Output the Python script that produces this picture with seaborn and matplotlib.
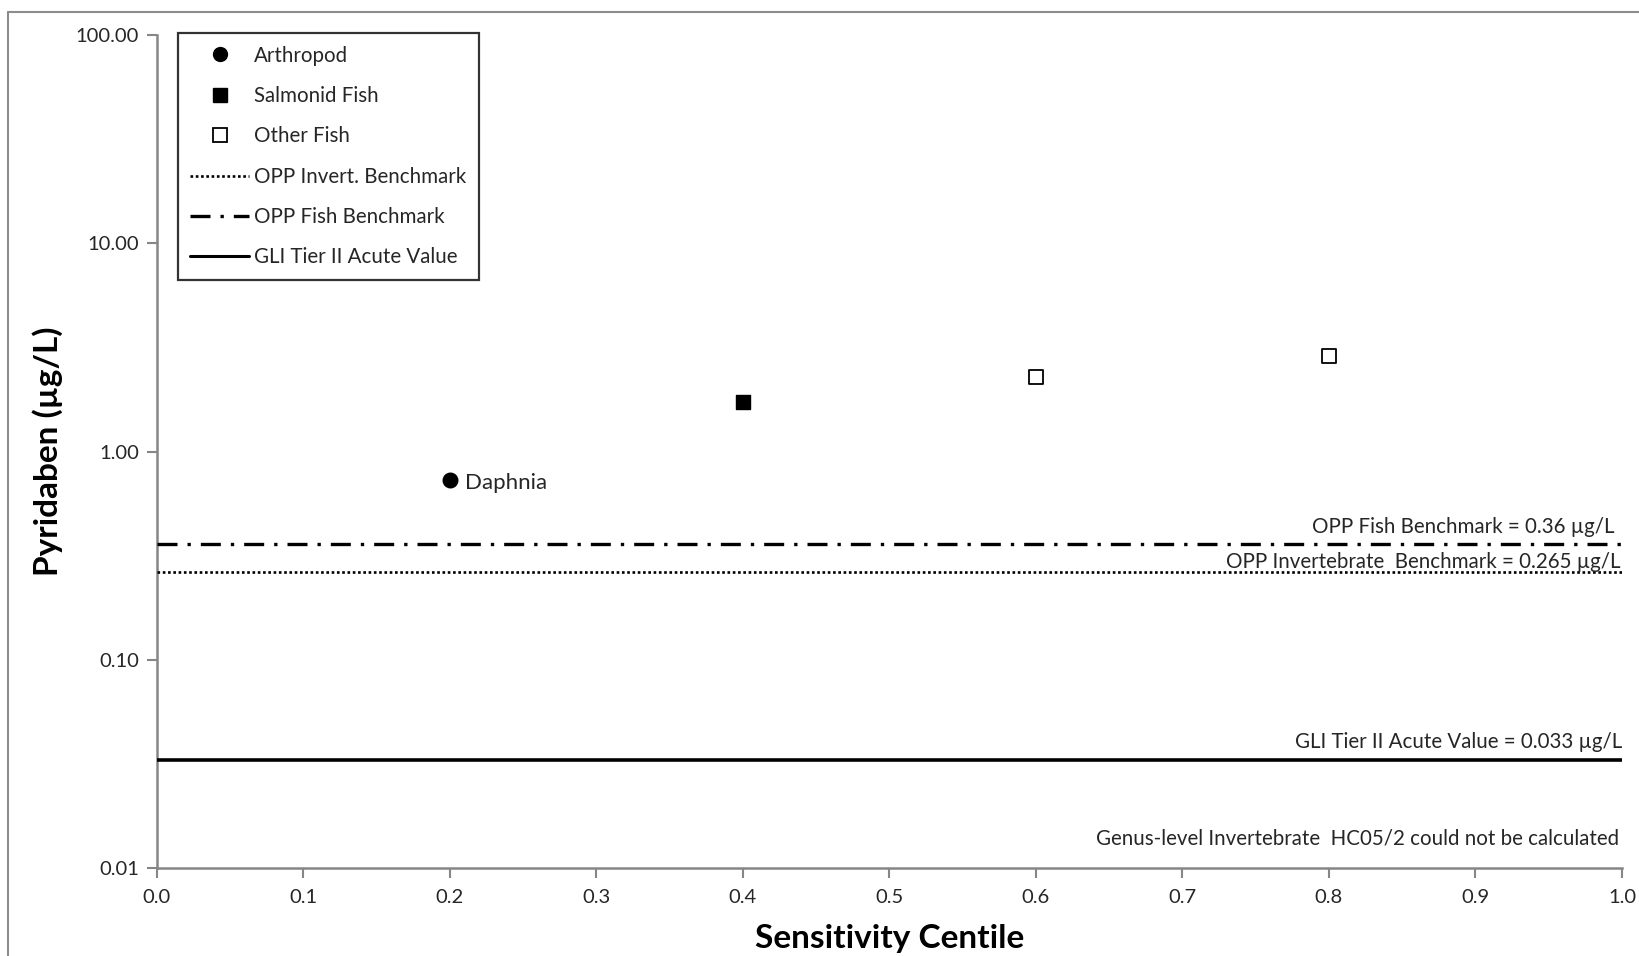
import numpy as np
import pandas as pd
import matplotlib
matplotlib.use("Agg")
import matplotlib.pyplot as plt
from matplotlib.lines import Line2D
import seaborn as sns

# Species sensitivity data (centile, concentration in µg/L)
arthropod_x = [0.2]
arthropod_y = [0.73]
arthropod_names = ["Daphnia"]
salmonid_x = [0.4]
salmonid_y = [1.73]
other_fish_x = [0.6, 0.8]
other_fish_y = [2.29, 2.89]

# Benchmark values (µg/L)
opp_invert = 0.265
opp_fish = 0.36
gli_tier2 = 0.033

x_ticks = [0.0, 0.1, 0.2, 0.3, 0.4, 0.5, 0.6, 0.7, 0.8, 0.9, 1.0]
y_ticks = [0.01, 0.1, 1.0, 10.0, 100.0]

sns.set_theme(style="white")
plt.rcParams["font.family"] = ["Lato", "DejaVu Sans"]

fig = plt.figure(figsize=(16.4, 9.56), dpi=100)
ax = fig.add_axes([0.0957, 0.092, 0.8933, 0.8714])

axis_gray = "#868686"
text_col = "#262626"
note_size = 14.8

df_a = pd.DataFrame({"x": arthropod_x, "y": arthropod_y})
df_s = pd.DataFrame({"x": salmonid_x, "y": salmonid_y})
df_o = pd.DataFrame({"x": other_fish_x, "y": other_fish_y})

sns.scatterplot(data=df_a, x="x", y="y", ax=ax, marker="o", s=110,
                color="black", edgecolor="black", linewidth=1, zorder=5)
sns.scatterplot(data=df_s, x="x", y="y", ax=ax, marker="s", s=110,
                color="black", edgecolor="black", linewidth=1, zorder=5)
sns.scatterplot(data=df_o, x="x", y="y", ax=ax, marker="s", s=110,
                color="white", edgecolor="black", linewidth=1.3, zorder=5)

for xv, yv, name in zip(arthropod_x, arthropod_y, arthropod_names):
    ax.annotate(name, (xv, yv), xytext=(11, -2), textcoords="offset points",
                ha="left", va="center", fontsize=16, color=text_col)

# Benchmark lines
ax.axhline(opp_invert, color="black", lw=1.9, ls=(0, (1, 1)), zorder=3)
ax.axhline(opp_fish, color="black", lw=2.4, ls=(0, (6, 3, 1, 3)), zorder=3)
ax.axhline(gli_tier2, color="black", lw=2.6, ls="-", zorder=3)

ax.annotate("OPP Fish Benchmark = 0.36 µg/L", (0.995, opp_fish),
            xytext=(0, 5), textcoords="offset points", ha="right", va="bottom",
            fontsize=note_size, color=text_col)
ax.annotate("OPP Invertebrate  Benchmark = 0.265 µg/L", (0.999, opp_invert),
            xytext=(0, 0), textcoords="offset points", ha="right", va="bottom",
            fontsize=note_size, color=text_col)
ax.annotate("GLI Tier II Acute Value = 0.033 µg/L", (1.0, gli_tier2),
            xytext=(0, 6), textcoords="offset points", ha="right", va="bottom",
            fontsize=note_size, color=text_col)
ax.text(0.998, 0.0139, "Genus-level Invertebrate  HC05/2 could not be calculated",
        ha="right", va="center", fontsize=note_size, color=text_col)

# Axes styling
ax.set_yscale("log")
ax.set_xlim(0, 1.0)
ax.set_ylim(0.01, 100)
ax.set_xticks(x_ticks)
ax.set_xticklabels([f"{v:.1f}" for v in x_ticks])
ax.set_yticks(y_ticks)
ax.set_yticklabels([f"{v:.2f}" for v in y_ticks])
ax.yaxis.set_minor_locator(matplotlib.ticker.NullLocator())
ax.tick_params(axis="both", which="major", direction="out", length=7,
               width=1.5, color=axis_gray, labelsize=14.5, labelcolor=text_col,
               left=True, bottom=True)
ax.tick_params(axis="x", pad=8)
ax.tick_params(axis="y", pad=6)
for side in ["top", "right"]:
    ax.spines[side].set_visible(False)
for side in ["left", "bottom"]:
    ax.spines[side].set_color(axis_gray)
    ax.spines[side].set_linewidth(1.8)

ax.set_xlabel("Sensitivity Centile", fontsize=24, fontweight="bold",
              color="black", labelpad=13)
ax.set_ylabel("Pyridaben (µg/L)", fontsize=24, fontweight="bold",
              color="black", labelpad=9)

handles = [
    Line2D([], [], ls="none", marker="o", ms=10, mfc="black", mec="black"),
    Line2D([], [], ls="none", marker="s", ms=10, mfc="black", mec="black"),
    Line2D([], [], ls="none", marker="s", ms=10, mfc="white", mec="black", mew=1.3),
    Line2D([], [], color="black", lw=1.9, ls=(0, (1, 1))),
    Line2D([], [], color="black", lw=2.4, ls=(0, (6, 3, 1, 3))),
    Line2D([], [], color="black", lw=2.2, ls="-"),
]
labels = ["Arthropod", "Salmonid Fish", "Other Fish", "OPP Invert. Benchmark",
          "OPP Fish Benchmark", "GLI Tier II Acute Value"]
leg = ax.legend(handles, labels, loc="upper left", bbox_to_anchor=(0.0143, 1.002),
                frameon=True, fancybox=False, fontsize=14.8, handlelength=2.85,
                handletextpad=0.25, labelspacing=0.99, borderpad=0.6,
                borderaxespad=0, labelcolor=text_col)
leg.get_frame().set_edgecolor("black")
leg.get_frame().set_linewidth(1.6)

# Chart-area frame
fig.add_artist(Line2D([8 / 1640, 8 / 1640], [0, 1 - 12 / 956],
                      transform=fig.transFigure, color="#8c8c8c", lw=1.5))
fig.add_artist(Line2D([8 / 1640, 1], [1 - 12 / 956, 1 - 12 / 956],
                      transform=fig.transFigure, color="#8c8c8c", lw=1.5))

fig.savefig("out.png", dpi=100)
